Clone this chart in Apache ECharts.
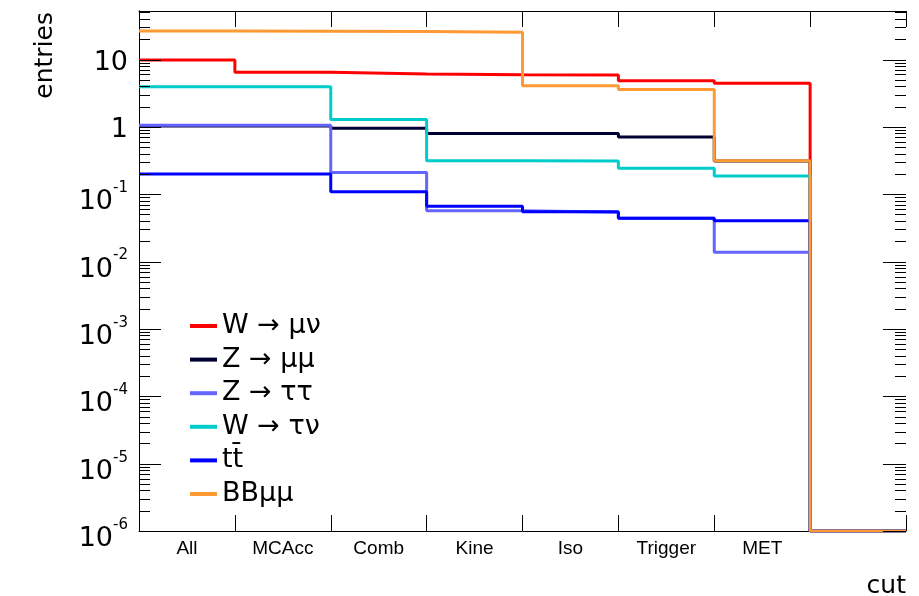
<!DOCTYPE html>
<html><head><meta charset="utf-8">
<script src="https://cdn.jsdelivr.net/npm/echarts@6/dist/echarts.min.js"></script>
<style>html,body{margin:0;padding:0;background:#fff}#c{width:919px;height:596px}</style>
</head><body><div id="c"></div>
<script>
// ---- data ----
const categories = ['All', 'MCAcc', 'Comb', 'Kine', 'Iso', 'Trigger', 'MET', ''];
const seriesNames = ['W \u2192 \u03bc\u03bd', 'Z \u2192 \u03bc\u03bc', 'Z \u2192 \u03c4\u03c4', 'W \u2192 \u03c4\u03bd', 'tt\u0304', 'BB\u03bc\u03bc'];
const wMuNu   = [9.8, 6.45, 6.1, 5.95, 5.9, 4.85, 4.45, 0];
const zMuMu   = [1.03, 1.03, 0.95, 0.80, 0.80, 0.71, 0.31, 0];
const zTauTau = [1.06, 1.06, 0.21, 0.057, 0.054, 0.044, 0.0137, 0];
const wTauNu  = [3.95, 3.95, 1.29, 0.314, 0.31, 0.243, 0.186, 0];
const ttbar   = [0.2, 0.2, 0.109, 0.066, 0.055, 0.0439, 0.0405, 0];
const bbMuMu  = [26.5, 26.3, 26.0, 25.3, 4.08, 3.6, 0.314, 0];
const yTickExponents = [-6, -5, -4, -3, -2, -1, 0, 1];
const yMin = 1e-6, yMax = 52.5;

const allValues = [wMuNu, zMuMu, zTauTau, wTauNu, ttbar, bbMuMu];
const colors = ['#ff0000', '#000033', '#6464ff', '#00cccc', '#0000ff', '#ff9933'];

// ---- layout ----
const W = 919, H = 596;
const gridL = 139, gridR = 13, gridT = 11, gridB = 65;
const binW = (W - gridL - gridR) / categories.length;
const FONT = 'DejaVu Sans';

function toSteps(vals) {
  const pts = vals.map((v, i) => [i, v > 0 ? v : yMin]);
  pts.push([vals.length, vals[vals.length - 1] > 0 ? vals[vals.length - 1] : yMin]);
  return pts;
}

// log tick positions (axis decoration): [x, value, isMajor]
const logTicks = [];
yTickExponents.forEach(e => {
  logTicks.push([0, Math.pow(10, e), 1]);
  for (let k = 2; k <= 9; k++) {
    const v = k * Math.pow(10, e);
    if (v < yMax) logTicks.push([0, v, 0]);
  }
});

function yLabel(v) {
  const lg = Math.log10(v);
  const e = Math.round(lg);
  if (Math.abs(lg - e) > 0.01 || yTickExponents.indexOf(e) < 0) return '';
  if (e === 1) return '{n|10}';
  if (e === 0) return '{n|1}';
  return '{b|10}{s|' + e + '}';
}

const chart = echarts.init(document.getElementById('c'), null, {renderer: 'canvas'});

const series = allValues.map((vals, i) => ({
  name: seriesNames[i],
  type: 'line',
  step: 'end',
  xAxisIndex: 0, yAxisIndex: 0,
  data: toSteps(vals),
  showSymbol: false, symbol: 'none',
  lineStyle: {color: colors[i], width: 3},
  itemStyle: {color: colors[i]},
  z: 3 + i,
  animation: false
}));

series.push({
  name: 'logTicks',
  type: 'custom',
  xAxisIndex: 0, yAxisIndex: 0,
  data: logTicks,
  silent: true,
  z: 10,
  renderItem: function (params, api) {
    const y = Math.round(api.coord([0, api.value(1)])[1]) + 0.5;
    const cs = params.coordSys;
    const major = api.value(2) === 1;
    const lenL = major ? 22 : 11, lenR = major ? 23 : 11;
    return {
      type: 'group',
      children: [
        {type: 'line', shape: {x1: cs.x, y1: y, x2: cs.x + lenL, y2: y}, style: {stroke: '#000', lineWidth: 1}},
        {type: 'line', shape: {x1: cs.x + cs.width - lenR, y1: y, x2: cs.x + cs.width, y2: y}, style: {stroke: '#000', lineWidth: 1}}
      ]
    };
  }
});

const axisLineStyle = {show: true, lineStyle: {color: '#000', width: 1}};

chart.setOption({
  animation: false,
  backgroundColor: '#fff',
  grid: {left: gridL, right: gridR, top: gridT, bottom: gridB, containLabel: false},
  legend: {
    data: seriesNames,
    orient: 'vertical',
    left: 190, top: 312,
    padding: 0,
    itemWidth: 27, itemHeight: 4, itemGap: 5.6,
    icon: 'rect',
    textStyle: {fontFamily: FONT, fontSize: 27, color: '#000', lineHeight: 28}
  },
  xAxis: [
    {
      type: 'value', position: 'bottom', min: 0, max: categories.length, interval: 1,
      axisLine: axisLineStyle,
      axisTick: {show: true, inside: true, length: 16, lineStyle: {color: '#000'}},
      splitLine: {show: false},
      axisLabel: {
        show: true, margin: 8, color: '#000',
        fontFamily: 'Liberation Sans', fontSize: 19,
        padding: [0, 0, 0, binW],
        formatter: v => categories[Math.round(v)] || ''
      }
    },
    {
      type: 'value', position: 'top', min: 0, max: categories.length, interval: 1,
      axisLine: axisLineStyle,
      axisTick: {show: true, inside: true, length: 16, lineStyle: {color: '#000'}},
      splitLine: {show: false},
      axisLabel: {show: false}
    }
  ],
  yAxis: [
    {
      type: 'log', position: 'left', min: yMin, max: yMax, interval: 1,
      axisLine: axisLineStyle,
      axisTick: {show: false},
      splitLine: {show: false},
      minorTick: {show: false},
      axisLabel: {
        show: true, margin: 11, color: '#000',
        showMinLabel: true, showMaxLabel: true,
        formatter: yLabel,
        rich: {
          n: {fontFamily: FONT, fontSize: 27, color: '#000', padding: [6, 0, 0, 0], verticalAlign: 'bottom'},
          b: {fontFamily: FONT, fontSize: 27, color: '#000', padding: [16, 0, 0, 0], verticalAlign: 'bottom'},
          s: {fontFamily: FONT, fontSize: 15, color: '#000', padding: [8, 0, 0, 0], verticalAlign: 'top'}
        }
      }
    },
    {
      type: 'log', position: 'right', min: yMin, max: yMax, interval: 1,
      axisLine: axisLineStyle,
      axisTick: {show: false},
      splitLine: {show: false},
      axisLabel: {show: false}
    }
  ],
  graphic: [
    {
      type: 'text', x: 45, y: 12, rotation: Math.PI / 2,
      style: {text: 'entries', fontFamily: FONT, fontSize: 25, fill: '#000', align: 'right', verticalAlign: 'middle'}
    },
    {
      type: 'text', x: 906, y: 586,
      style: {text: 'cut', fontFamily: FONT, fontSize: 25, fill: '#000', align: 'right', verticalAlign: 'middle'}
    }
  ],
  series: series
});
</script>
</body></html>
